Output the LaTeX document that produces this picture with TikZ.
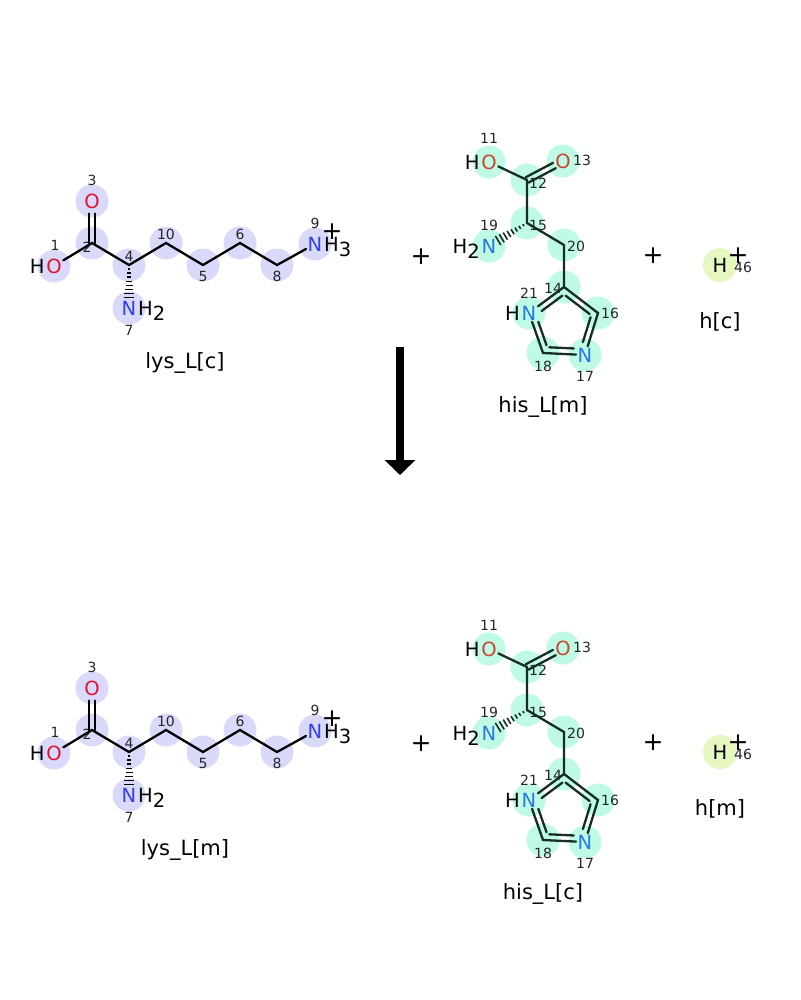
\documentclass[tikz,border=0pt]{standalone}
\usepackage{fontspec}
\setmainfont{DejaVu Sans}
\usetikzlibrary{calc,arrows.meta}

\definecolor{lysfill}{RGB}{217,217,250}
\definecolor{hisfill}{RGB}{190,250,228}
\definecolor{hfill}{RGB}{230,248,192}
\definecolor{lysO}{RGB}{228,16,50}
\definecolor{lysN}{RGB}{50,64,240}
\definecolor{hisO}{RGB}{200,70,50}
\definecolor{hisN}{RGB}{40,120,225}
\definecolor{hisdark}{RGB}{22,44,36}

\newcommand{\lowr}[1]{\raisebox{-5pt}{#1}}
\newcommand{\hashbond}[3]{%
  \foreach \i in {1,...,8} {
    \pgfmathsetmacro{\ht}{0.095*\i}
    \pgfmathsetmacro{\hw}{0.5+0.6*\i}
    \draw[line width=1.6pt, draw=#3] ($(#1)!\ht!(#2)!\hw pt!90:(#2)$) -- ($(#1)!\ht!(#2)!\hw pt!-90:(#2)$);
  }}

\begin{document}
\begin{tikzpicture}[
    x=1pt, y=-1pt,
    atom/.style={font=\fontsize{19.5}{19.5}\selectfont, inner sep=1.5pt},
    hatom/.style={font=\fontsize{19.5}{19.5}\selectfont, inner sep=0pt},
    num/.style={font=\fontsize{14}{14}\selectfont, text=black!85, inner sep=0pt},
    molname/.style={font=\fontsize{21}{21}\selectfont, inner sep=0pt},
    plus/.style={font=\fontsize{25}{25}\selectfont, inner sep=0pt},
    bond/.style={line width=2.3pt, line cap=round},
    hisbond/.style={line width=2.3pt, line cap=round, draw=hisdark}
  ]
  \useasboundingbox (0,0) rectangle (800,1000);

  \foreach \r/\dy/\lysname/\hisname/\hname in {t/0/{lys\_L[c]}/{his\_L[m]}/{h[c]}, b/487/{lys\_L[m]}/{his\_L[c]}/{h[m]}} {
  \begin{scope}[yshift=-\dy pt]
    % lysine
    \coordinate (\r a1) at (54,266);
    \coordinate (\r a2) at (92,243);
    \coordinate (\r a3) at (92,201);
    \coordinate (\r a4) at (129,265);
    \coordinate (\r a5) at (203,265);
    \coordinate (\r a6) at (240,243);
    \coordinate (\r a7) at (129,308);
    \coordinate (\r a8) at (277,265);
    \coordinate (\r a9) at (315,244);
    \coordinate (\r a10) at (166,243);
    % histidine
    \coordinate (\r a11) at (489,162);
    \coordinate (\r a12) at (527,180);
    \coordinate (\r a13) at (563,161);
    \coordinate (\r a14) at (564,287);
    \coordinate (\r a15) at (527,223);
    \coordinate (\r a16) at (598,313);
    \coordinate (\r a17) at (585,355);
    \coordinate (\r a18) at (543,353);
    \coordinate (\r a19) at (489,246);
    \coordinate (\r a20) at (564,245);
    \coordinate (\r a21) at (529,313);
    \coordinate (\r rc) at (564,324);
    % proton
    \coordinate (\r a46) at (720,265);

    \foreach \k in {1,...,10} \fill[lysfill] (\r a\k) circle (16.5pt);
    \foreach \k in {11,...,21} \fill[hisfill] (\r a\k) circle (16.5pt);
    \fill[hfill] (\r a46) circle (17pt);

    \node[atom, text=lysO] (\r O1) at (\r a1) {O};
    \node[hatom, anchor=base east] (\r H1) at (\r O1.base west) {H};
    \node[atom, text=lysO] (\r O3) at (\r a3) {O};
    \node[atom, text=lysN] (\r N7) at (\r a7) {N};
    \node[hatom, anchor=base west] (\r H7) at (\r N7.base east) {H\lowr{2}};
    \node[atom, text=lysN] (\r N9) at (\r a9) {N};
    \node[hatom, anchor=base west] (\r H9) at (\r N9.base east) {H\lowr{3}};
    \node[plus] (\r q9) at (332,232) {+};

    \node[num] (\r l1) at (55,245) {1};
    \node[num] (\r l2) at (87,247) {2};
    \node[num] (\r l3) at (92,180) {3};
    \node[num] (\r l4) at (129,256) {4};
    \node[num] (\r l5) at (203,276) {5};
    \node[num] (\r l6) at (240,234) {6};
    \node[num] (\r l7) at (129,330) {7};
    \node[num] (\r l8) at (277,276) {8};
    \node[num] (\r l9) at (315,223) {9};
    \node[num] (\r l10) at (166,234) {10};

    \draw[bond] (\r O1) -- (\r a2) -- (\r a4) -- (\r a10) -- (\r a5) -- (\r a6) -- (\r a8) -- (\r N9);
    \draw[bond] ($(\r a2)+(-3,0)$) -- ($(\r a2)!0.7!(\r a3)+(-3,0)$);
    \draw[bond] ($(\r a2)+(3,0)$) -- ($(\r a2)!0.7!(\r a3)+(3,0)$);
    \hashbond{\r a4}{\r a7}{black}

    \node[molname] (\r lys) at (185,363) {\lysname};

    \node[atom, text=hisO] (\r O11) at (\r a11) {O};
    \node[hatom, anchor=base east] (\r H11) at (\r O11.base west) {H};
    \node[atom, text=hisO] (\r O13) at (\r a13) {O};
    \node[atom, text=hisN] (\r N19) at (\r a19) {N};
    \node[hatom, anchor=base east] (\r H19) at (\r N19.base west) {H\lowr{2}};
    \node[atom, text=hisN] (\r N21) at (\r a21) {N};
    \node[hatom, anchor=base east] (\r H21) at (\r N21.base west) {H};
    \node[atom, text=hisN] (\r N17) at (\r a17) {N};

    \node[num] (\r l11) at (489,138) {11};
    \node[num] (\r l12) at (538,183) {12};
    \node[num] (\r l13) at (582,160) {13};
    \node[num] (\r l14) at (553,288) {14};
    \node[num] (\r l15) at (538,225) {15};
    \node[num] (\r l16) at (610,313) {16};
    \node[num] (\r l17) at (585,376) {17};
    \node[num] (\r l18) at (543,366) {18};
    \node[num] (\r l19) at (489,225) {19};
    \node[num] (\r l20) at (576,246) {20};
    \node[num] (\r l21) at (529,293) {21};

    \draw[hisbond] (\r O11) -- (\r a12) -- (\r a15) -- (\r a20) -- (\r a14);
    \draw[hisbond] ($(\r a12)!3pt!90:(\r a13)$) -- ($(\r a12)!0.76!(\r a13)!3pt!90:(\r a13)$);
    \draw[hisbond] ($(\r a12)!3pt!-90:(\r a13)$) -- ($(\r a12)!0.76!(\r a13)!3pt!-90:(\r a13)$);
    \hashbond{\r a15}{\r a19}{hisdark}
    \draw[hisbond] (\r a14) -- (\r a16) -- (\r N17) -- (\r a18) -- (\r N21) -- (\r a14);
    \draw[hisbond, shorten <=2pt, shorten >=2pt] ($(\r rc)!0.8!(\r a14)$) -- ($(\r rc)!0.8!(\r a16)$);
    \draw[hisbond, shorten <=2pt, shorten >=7pt] ($(\r rc)!0.8!(\r a16)$) -- ($(\r rc)!0.8!(\r a17)$);
    \draw[hisbond, shorten <=7pt, shorten >=2pt] ($(\r rc)!0.8!(\r a17)$) -- ($(\r rc)!0.8!(\r a18)$);
    \draw[hisbond, shorten <=2pt, shorten >=7pt] ($(\r rc)!0.8!(\r a18)$) -- ($(\r rc)!0.8!(\r a21)$);
    \draw[hisbond, shorten <=7pt, shorten >=2pt] ($(\r rc)!0.8!(\r a21)$) -- ($(\r rc)!0.8!(\r a14)$);

    \node[molname] (\r his) at (543,407) {\hisname};

    \node[atom] (\r H46) at (\r a46) {H};
    \node[plus] (\r q46) at (738,256) {+};
    \node[num] (\r l46) at (743,267) {46};
    \node[molname] (\r h) at (720,322) {\hname};

    \node[plus] (\r p1) at (421,257) {+};
    \node[plus] (\r p2) at (653,256) {+};
  \end{scope}
  }

  \coordinate (arrtop) at (400,347);
  \coordinate (arrtip) at (400,475);
  \draw[line width=8pt, -{Triangle[width=30pt, length=15pt]}] (arrtop) -- (arrtip);
\end{tikzpicture}
\end{document}
